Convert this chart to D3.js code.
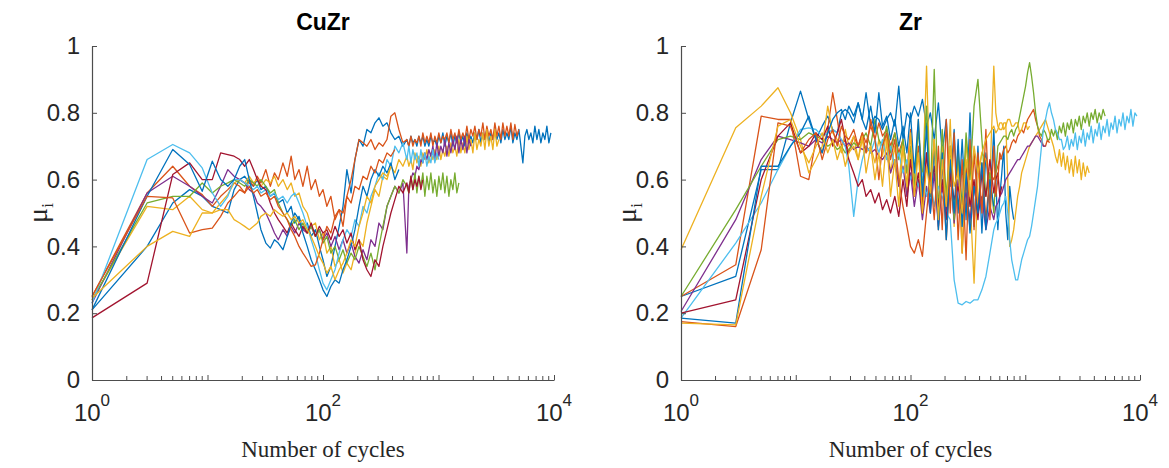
<!DOCTYPE html>
<html>
<head>
<meta charset="utf-8">
<script src="https://cdn.jsdelivr.net/npm/d3@7"></script>
<style>
  body { margin: 0; background: #fff; }
  svg { display: block; }
</style>
</head>
<body>
<script>
// Sampled cycle numbers shared by every run (denser towards the long-run end)
const cycles = [1,3,5,7,9,11,13,15,17,19,21,23,25,27,29,32,35,38,41,45,49,53,57,62,67,73,79,86,93,100,
  108,117,127,138,149,161,175,189,205,222,240,260,282,305,330,358,387,419,454,492,
  532,554,577,600,625,650,676,704,732,762,793,825,859,894,930,968,1007,1048,1091,1135,
  1182,1230,1280,1332,1386,1442,1501,1562,1626,1692,1761,1833,1907,1985,2065,2149,2237,2328,2422,2521,
  2623,2730,2841,2957,3077,3202,3332,3468,3609,3756,3908,4067,4233,4405,4584,4771,4965,5167,5377,5596,
  5823,6060,6306,6563,6830,7108,7397,7698,8011,8337,8676,9029,9396];

// CuZr: instantaneous friction coefficient per run, aligned with `cycles`
const cuzr1 = [0.21,0.40,0.53,0.57,0.55,0.52,0.51,0.50,0.57,0.60,
  0.61,0.59,0.58,0.60,0.57,0.58,0.55,0.56,0.53,0.54,
  0.50,0.52,0.47,0.49,0.45,0.47,0.43,0.45,0.40,0.36,
  0.31,0.34,0.40,0.46,0.52,0.63,0.56,0.66,0.72,0.70,
  0.75,0.74,0.77,0.785,0.76,0.77,0.74,0.72,0.73,0.70,
  0.72,0.70,0.73,0.71,0.72,0.70,0.73,0.71,0.73,0.70,
  0.72,0.70,0.73,0.71,0.72,0.70,0.73,0.71,0.74,0.70,
  0.73,0.71,0.74,0.70,0.73,0.71,0.74,0.71,0.73,0.70,
  0.74,0.71,0.73,0.71,0.74,0.72,0.75,0.71,0.74,0.72,
  0.75,0.71,0.74,0.72,0.75,0.72,0.74,0.71,0.75,0.72,
  0.74,0.72,0.76,0.71,0.74,0.72,0.75,0.70,0.65,0.73,
  0.75,0.72,0.74,0.71,0.76,0.72,0.75,0.71,0.74,0.72,
  0.76,0.71,0.74];
const cuzr2 = [0.25,0.56,0.64,0.58,0.555,0.52,0.55,0.57,0.59,0.58,
  0.56,0.60,0.58,0.61,0.59,0.63,0.58,0.62,0.60,0.65,
  0.61,0.67,0.60,0.63,0.58,0.64,0.57,0.60,0.55,0.57,
  0.52,0.55,0.48,0.51,0.46,0.55,0.60,0.66,0.72,0.71,
  0.70,0.72,0.69,0.71,0.70,0.72,0.79,0.80,0.75,0.71,
  0.72,0.70,0.73,0.70,0.72,0.71,0.73,0.70,0.74,0.71,
  0.73,0.71,0.74,0.70,0.73,0.71,0.74,0.71,0.73,0.72,
  0.74,0.71,0.75,0.72,0.74,0.71,0.75,0.72,0.74,0.72,
  0.76,0.72,0.75,0.73,0.76,0.72,0.75,0.73,0.77,0.72,
  0.76,0.73,0.75,0.72,0.77,0.73,0.76,0.72,0.77,0.73,
  0.76,0.73,0.77,0.72,0.765,0.73,0.75];
const cuzr3 = [0.24,0.52,0.51,0.55,0.51,0.50,0.53,0.555,0.59,0.60,
  0.59,0.61,0.59,0.60,0.58,0.60,0.59,0.61,0.58,0.60,
  0.57,0.59,0.55,0.56,0.52,0.50,0.46,0.47,0.42,0.44,
  0.38,0.40,0.34,0.36,0.32,0.35,0.33,0.38,0.42,0.40,
  0.47,0.52,0.57,0.55,0.61,0.60,0.64,0.62,0.66,0.64,
  0.67,0.64,0.66,0.63,0.68,0.65,0.67,0.64,0.68,0.66,
  0.69,0.65,0.68,0.66,0.69,0.66,0.70,0.66,0.69,0.67,
  0.70,0.67,0.71,0.68,0.70,0.67,0.72,0.68,0.71,0.68,
  0.73,0.69,0.72,0.68,0.74,0.69,0.72,0.70,0.74,0.69,
  0.75,0.70,0.73,0.69,0.75,0.70,0.72];
const cuzr4 = [0.23,0.56,0.61,0.58,0.55,0.53,0.58,0.63,0.61,0.60,
  0.59,0.57,0.56,0.53,0.52,0.50,0.47,0.44,0.42,0.45,
  0.43,0.46,0.44,0.47,0.45,0.44,0.46,0.43,0.45,0.42,
  0.44,0.40,0.43,0.39,0.42,0.38,0.41,0.37,0.35,0.39,
  0.36,0.42,0.40,0.47,0.45,0.52,0.55,0.58,0.56,0.59,
  0.38,0.58,0.60,0.62,0.61,0.64,0.63,0.66,0.65,0.68,
  0.66,0.69,0.67,0.70,0.66,0.71,0.67,0.70,0.68,0.72,
  0.67,0.71,0.68,0.72,0.69,0.73,0.68,0.72,0.69,0.73,
  0.68,0.72,0.70];
const cuzr5 = [0.24,0.53,0.55,0.55,0.59,0.56,0.58,0.59,0.60,0.59,
  0.58,0.60,0.59,0.58,0.60,0.58,0.56,0.57,0.53,0.50,
  0.48,0.46,0.48,0.45,0.47,0.44,0.46,0.43,0.45,0.41,
  0.43,0.38,0.40,0.36,0.39,0.35,0.38,0.36,0.40,0.37,
  0.34,0.38,0.33,0.40,0.46,0.52,0.55,0.58,0.56,0.60,
  0.58,0.56,0.61,0.57,0.62,0.56,0.61,0.58,0.62,0.55,
  0.61,0.57,0.62,0.56,0.60,0.55,0.61,0.57,0.62,0.56,
  0.61,0.55,0.60,0.57,0.62,0.56,0.59];
const cuzr6 = [0.23,0.66,0.705,0.68,0.635,0.56,0.52,0.55,0.60,0.60,
  0.59,0.58,0.57,0.58,0.56,0.57,0.55,0.56,0.54,0.55,
  0.53,0.55,0.56,0.53,0.50,0.46,0.42,0.38,0.33,0.29,
  0.27,0.30,0.33,0.38,0.42,0.45,0.43,0.48,0.46,0.52,
  0.50,0.55,0.58,0.62,0.60,0.66,0.64,0.70,0.68,0.71,
  0.66,0.70,0.65,0.69,0.66,0.68,0.64,0.69,0.65,0.68,
  0.64,0.67,0.65,0.69,0.65,0.68,0.66];
const cuzr7 = [0.186,0.29,0.615,0.65,0.60,0.60,0.68,0.675,0.67,0.66,
  0.64,0.66,0.63,0.60,0.58,0.57,0.53,0.50,0.48,0.46,
  0.44,0.47,0.45,0.43,0.46,0.44,0.47,0.43,0.46,0.44,
  0.45,0.42,0.46,0.43,0.45,0.41,0.44,0.39,0.42,0.36,
  0.33,0.31,0.36,0.34,0.40,0.45,0.50,0.54,0.58,0.56,
  0.59,0.56,0.61,0.57,0.60,0.58,0.61,0.57,0.60];
const cuzr8 = [0.21,0.55,0.69,0.645,0.565,0.655,0.60,0.58,0.60,0.64,
  0.66,0.60,0.55,0.50,0.45,0.41,0.395,0.42,0.41,0.39,
  0.43,0.47,0.50,0.48,0.44,0.40,0.36,0.33,0.30,0.27,
  0.25,0.28,0.30,0.29,0.33,0.36,0.40,0.45,0.52,0.58,
  0.55,0.60,0.63,0.61,0.64,0.62,0.65,0.60,0.63];
const cuzr9 = [0.25,0.55,0.545,0.44,0.45,0.455,0.49,0.53,0.55,0.57,
  0.56,0.58,0.56,0.57,0.55,0.56,0.54,0.55,0.52,0.50,
  0.48,0.45,0.43,0.40,0.38,0.36,0.34,0.345,0.38,0.42,
  0.46,0.44,0.49,0.51,0.50,0.55,0.53,0.58,0.57,0.61,
  0.60,0.64,0.62,0.66,0.65,0.68,0.67,0.69];
const cuzr10 = [0.245,0.40,0.445,0.43,0.50,0.50,0.51,0.51,0.48,0.47,
  0.46,0.45,0.46,0.47,0.49,0.50,0.49,0.51,0.50,0.49,
  0.50,0.48,0.49,0.47,0.48,0.45,0.43,0.40,0.37,0.35,
  0.32,0.34,0.30,0.33,0.35,0.38,0.42,0.40,0.46,0.50,
  0.55,0.53,0.58,0.60,0.62,0.61,0.64];

// Zr: instantaneous friction coefficient per run, aligned with `cycles`
const zr1 = [0.25,0.31,0.63,0.63,0.77,0.865,0.78,0.72,0.76,0.79,
  0.75,0.74,0.80,0.81,0.80,0.77,0.83,0.78,0.86,0.76,
  0.79,0.78,0.75,0.78,0.80,0.76,0.88,0.72,0.80,0.78,
  0.82,0.79,0.84,0.76,0.80,0.72,0.83,0.68,0.78,0.58,
  0.75,0.50,0.72,0.48,0.80,0.46,0.70,0.44,0.68,0.52,
  0.75,0.60,0.45,0.55,0.62,0.70,0.50,0.42,0.58,0.52,
  0.48];
const zr2 = [0.25,0.345,0.79,0.78,0.78,0.61,0.60,0.72,0.68,0.75,
  0.86,0.78,0.70,0.72,0.68,0.73,0.70,0.74,0.71,0.76,
  0.72,0.77,0.73,0.75,0.70,0.74,0.68,0.72,0.62,0.75,
  0.58,0.70,0.52,0.68,0.55,0.72,0.45,0.66,0.42,0.62,
  0.48,0.70,0.38,0.60,0.45,0.68,0.52,0.65,0.48,0.62,
  0.60,0.62,0.64,0.66,0.67,0.69,0.70,0.68,0.69,0.71,
  0.72,0.71,0.73,0.74,0.75,0.74,0.76,0.78,0.79,0.80,
  0.81,0.78,0.76,0.73,0.72,0.70,0.70,0.72,0.71];
const zr3 = [0.39,0.755,0.82,0.875,0.80,0.72,0.62,0.66,0.70,0.82,
  0.74,0.72,0.68,0.75,0.70,0.73,0.66,0.72,0.68,0.70,
  0.65,0.72,0.67,0.74,0.62,0.70,0.58,0.72,0.55,0.68,
  0.60,0.78,0.58,0.94,0.55,0.72,0.48,0.70,0.52,0.78,
  0.46,0.68,0.38,0.72,0.55,0.29,0.60,0.68,0.66,0.60,
  0.94,0.80,0.76,0.75,0.75,0.77,0.77,0.60,0.40,0.42,
  0.45,0.50,0.55,0.58,0.62,0.64,0.66,0.68,0.70,0.71,
  0.72,0.73,0.74,0.75,0.76,0.77,0.78,0.76,0.74,0.72,
  0.70,0.67,0.65,0.69,0.64,0.68,0.63,0.67,0.62,0.66,
  0.61,0.67,0.62,0.66,0.60,0.65,0.61,0.64,0.62];
const zr4 = [0.205,0.48,0.66,0.73,0.72,0.71,0.70,0.72,0.71,0.73,
  0.72,0.71,0.72,0.70,0.71,0.69,0.70,0.69,0.70,0.68,
  0.69,0.67,0.66,0.68,0.62,0.66,0.58,0.64,0.55,0.62,
  0.52,0.60,0.48,0.58,0.50,0.62,0.46,0.58,0.50,0.64,
  0.47,0.60,0.52,0.56,0.48,0.58,0.50,0.55,0.45,0.52,
  0.48,0.52,0.53,0.55,0.56,0.58,0.60,0.61,0.62,0.63,
  0.64,0.65,0.66,0.66,0.67,0.68,0.69,0.70,0.70,0.71,
  0.72,0.73,0.73,0.72,0.71,0.70,0.70];
const zr5 = [0.25,0.51,0.64,0.72,0.73,0.72,0.74,0.73,0.72,0.70,
  0.71,0.69,0.70,0.68,0.69,0.71,0.70,0.72,0.74,0.70,
  0.78,0.72,0.70,0.76,0.68,0.74,0.66,0.72,0.62,0.70,
  0.58,0.75,0.60,0.82,0.55,0.93,0.50,0.75,0.55,0.70,
  0.48,0.68,0.52,0.74,0.60,0.82,0.90,0.72,0.55,0.62,
  0.50,0.62,0.70,0.71,0.72,0.73,0.73,0.72,0.74,0.75,
  0.73,0.75,0.76,0.79,0.82,0.85,0.88,0.92,0.95,0.91,
  0.86,0.80,0.76,0.74,0.73,0.75,0.74,0.72,0.72,0.75,
  0.73,0.75,0.72,0.76,0.74,0.77,0.73,0.77,0.75,0.78,
  0.74,0.78,0.76,0.79,0.75,0.79,0.77,0.80,0.76,0.80,
  0.78,0.81,0.77,0.80,0.78,0.81,0.79];
const zr6 = [0.185,0.41,0.53,0.63,0.70,0.75,0.755,0.75,0.73,0.74,
  0.75,0.74,0.72,0.70,0.64,0.49,0.60,0.66,0.70,0.68,
  0.72,0.68,0.72,0.66,0.70,0.64,0.68,0.62,0.66,0.60,
  0.64,0.58,0.62,0.55,0.60,0.52,0.58,0.55,0.50,0.48,
  0.30,0.23,0.225,0.235,0.23,0.24,0.24,0.27,0.31,0.38,
  0.45,0.47,0.48,0.50,0.52,0.53,0.55,0.50,0.42,0.36,
  0.33,0.30,0.30,0.33,0.36,0.38,0.40,0.42,0.43,0.46,
  0.50,0.54,0.58,0.64,0.70,0.75,0.78,0.81,0.83,0.80,
  0.78,0.75,0.74,0.72,0.72,0.69,0.70,0.73,0.69,0.72,
  0.70,0.74,0.69,0.73,0.71,0.75,0.70,0.74,0.72,0.76,
  0.71,0.75,0.73,0.77,0.72,0.76,0.74,0.78,0.73,0.77,
  0.75,0.79,0.74,0.78,0.76,0.80,0.75,0.79,0.77,0.81,
  0.76,0.80,0.79];
const zr7 = [0.20,0.24,0.60,0.73,0.77,0.68,0.70,0.74,0.72,0.76,
  0.70,0.74,0.78,0.72,0.66,0.62,0.58,0.60,0.55,0.57,
  0.53,0.56,0.51,0.54,0.50,0.55,0.49,0.60,0.52,0.66,
  0.55,0.62,0.50,0.68,0.56,0.64,0.52,0.60,0.48,0.62,
  0.54,0.58,0.50,0.64,0.52,0.60,0.48,0.62,0.55,0.66,
  0.56,0.60,0.62,0.55,0.58];
const zr8 = [0.185,0.17,0.64,0.64,0.70,0.74,0.79,0.72,0.68,0.74,
  0.78,0.80,0.81,0.78,0.82,0.79,0.83,0.78,0.75,0.82,
  0.74,0.86,0.76,0.79,0.72,0.78,0.70,0.76,0.68,0.80,
  0.62,0.78,0.55,0.76,0.50,0.70,0.45,0.68,0.42,0.66,
  0.50,0.72,0.46,0.62,0.44,0.58,0.50,0.65,0.45,0.60,
  0.52];
const zr9 = [0.175,0.16,0.39,0.77,0.76,0.68,0.72,0.74,0.66,0.72,
  0.75,0.70,0.76,0.73,0.72,0.75,0.70,0.74,0.68,0.78,
  0.72,0.60,0.70,0.74,0.66,0.72,0.60,0.52,0.46,0.40,
  0.38,0.42,0.37,0.50,0.62,0.48,0.70,0.45,0.78,0.50,
  0.74,0.42,0.66,0.36,0.72,0.45,0.68,0.50,0.75,0.48,
  0.70,0.55,0.60,0.68,0.66];
const zr10 = [0.17,0.165,0.55,0.76,0.78,0.70,0.65,0.70,0.74,0.68,
  0.72,0.66,0.70,0.64,0.68,0.70,0.66,0.73,0.62,0.70,
  0.60,0.68,0.58,0.72,0.55,0.66,0.52,0.70,0.58,0.74,
  0.55,0.68,0.50,0.64,0.56,0.72,0.48,0.66,0.52,0.70,
  0.58,0.62,0.50,0.66,0.55,0.70,0.62,0.68,0.72,0.74,
  0.76,0.74,0.75,0.77,0.77,0.75,0.76,0.78,0.78,0.76,
  0.76,0.77,0.77,0.74,0.75,0.77,0.77,0.75,0.76];

const yTicks = [0, 0.2, 0.4, 0.6, 0.8, 1];
const xLabelExponents = [0, 2, 4];
const lineColors = ["#0072BD", "#D95319", "#EDB120", "#7E2F8E", "#77AC30", "#4DBEEE", "#A2142F"];

const panels = [
  { title: "CuZr", left: 92, right: 554, runs: [cuzr1, cuzr2, cuzr3, cuzr4, cuzr5, cuzr6, cuzr7, cuzr8, cuzr9, cuzr10] },
  { title: "Zr", left: 681, right: 1140, runs: [zr1, zr2, zr3, zr4, zr5, zr6, zr7, zr8, zr9, zr10] }
];

const W = 1169, H = 468;
const plotTop = 46, plotBottom = 380;
const axisColor = "#4d4d4d", textColor = "#262626";
const sans = "'Liberation Sans', Arial, Helvetica, sans-serif";
const serif = "'Liberation Serif', 'Times New Roman', serif";

const svg = d3.select("body").append("svg").attr("width", W).attr("height", H);

panels.forEach(p => {
  const x = d3.scaleLog().domain([1, 1e4]).range([p.left, p.right]);
  const y = d3.scaleLinear().domain([0, 1]).range([plotBottom, plotTop]);
  const g = svg.append("g");

  // traces, first run underneath
  const line = d3.line().x((d, i) => x(cycles[i])).y(d => y(d));
  p.runs.forEach((run, k) => {
    g.append("path")
      .datum(run)
      .attr("d", line)
      .attr("fill", "none")
      .attr("stroke", lineColors[k % lineColors.length])
      .attr("stroke-width", 1.3)
      .attr("stroke-linejoin", "round");
  });

  // x axis: decade ticks plus minor log ticks, all pointing inward
  const majors = [1, 10, 100, 1000, 10000];
  const minors = [];
  for (let e = 0; e < 4; e++) for (let m = 2; m <= 9; m++) minors.push(m * Math.pow(10, e));

  const xAxis = g.append("g")
    .attr("transform", `translate(0,${plotBottom})`)
    .call(d3.axisBottom(x).tickValues(majors).tickSizeInner(-5).tickSizeOuter(0).tickFormat(""));
  xAxis.select(".domain").attr("stroke", axisColor).attr("stroke-width", 1.2);
  xAxis.selectAll(".tick line").attr("stroke", axisColor).attr("stroke-width", 1);

  g.append("g").attr("transform", `translate(0,${plotBottom})`)
    .selectAll("line").data(minors).join("line")
    .attr("x1", d => x(d)).attr("x2", d => x(d))
    .attr("y1", 0).attr("y2", -4)
    .attr("stroke", axisColor).attr("stroke-width", 1);

  // x tick labels as powers of ten
  xLabelExponents.forEach(ex => {
    const t = g.append("text")
      .attr("x", x(Math.pow(10, ex)))
      .attr("y", 421)
      .attr("text-anchor", "middle")
      .attr("font-family", sans)
      .attr("font-size", 24)
      .attr("fill", textColor);
    t.append("tspan").text("10");
    t.append("tspan").attr("dy", -15).attr("font-size", 17).text(String(ex));
  });

  // y axis
  const yAxis = g.append("g")
    .attr("transform", `translate(${p.left},0)`)
    .call(d3.axisLeft(y).tickValues(yTicks).tickSizeInner(-5).tickSizeOuter(0).tickPadding(12)
      .tickFormat(d => (d === 0 || d === 1) ? String(d) : d.toFixed(1)));
  yAxis.select(".domain").attr("stroke", axisColor).attr("stroke-width", 1.2);
  yAxis.selectAll(".tick line").attr("stroke", axisColor).attr("stroke-width", 1);
  yAxis.selectAll(".tick text")
    .attr("font-family", sans).attr("font-size", 24).attr("fill", textColor);

  // title
  g.append("text")
    .attr("x", (p.left + p.right) / 2)
    .attr("y", 30)
    .attr("text-anchor", "middle")
    .attr("font-family", sans)
    .attr("font-weight", "bold")
    .attr("font-size", 23)
    .attr("fill", "#000")
    .text(p.title);

  // axis titles
  g.append("text")
    .attr("x", (p.left + p.right) / 2)
    .attr("y", 457)
    .attr("text-anchor", "middle")
    .attr("font-family", serif)
    .attr("font-size", 23)
    .attr("fill", textColor)
    .text("Number of cycles");

  const yl = g.append("text")
    .attr("transform", `translate(${p.left - 45},${(plotTop + plotBottom) / 2}) rotate(-90)`)
    .attr("text-anchor", "middle")
    .attr("font-family", serif)
    .attr("font-size", 28)
    .attr("fill", textColor);
  yl.append("tspan").text("μ");
  yl.append("tspan").attr("dy", 6).attr("font-size", 17).text("i");
});
</script>
</body>
</html>
